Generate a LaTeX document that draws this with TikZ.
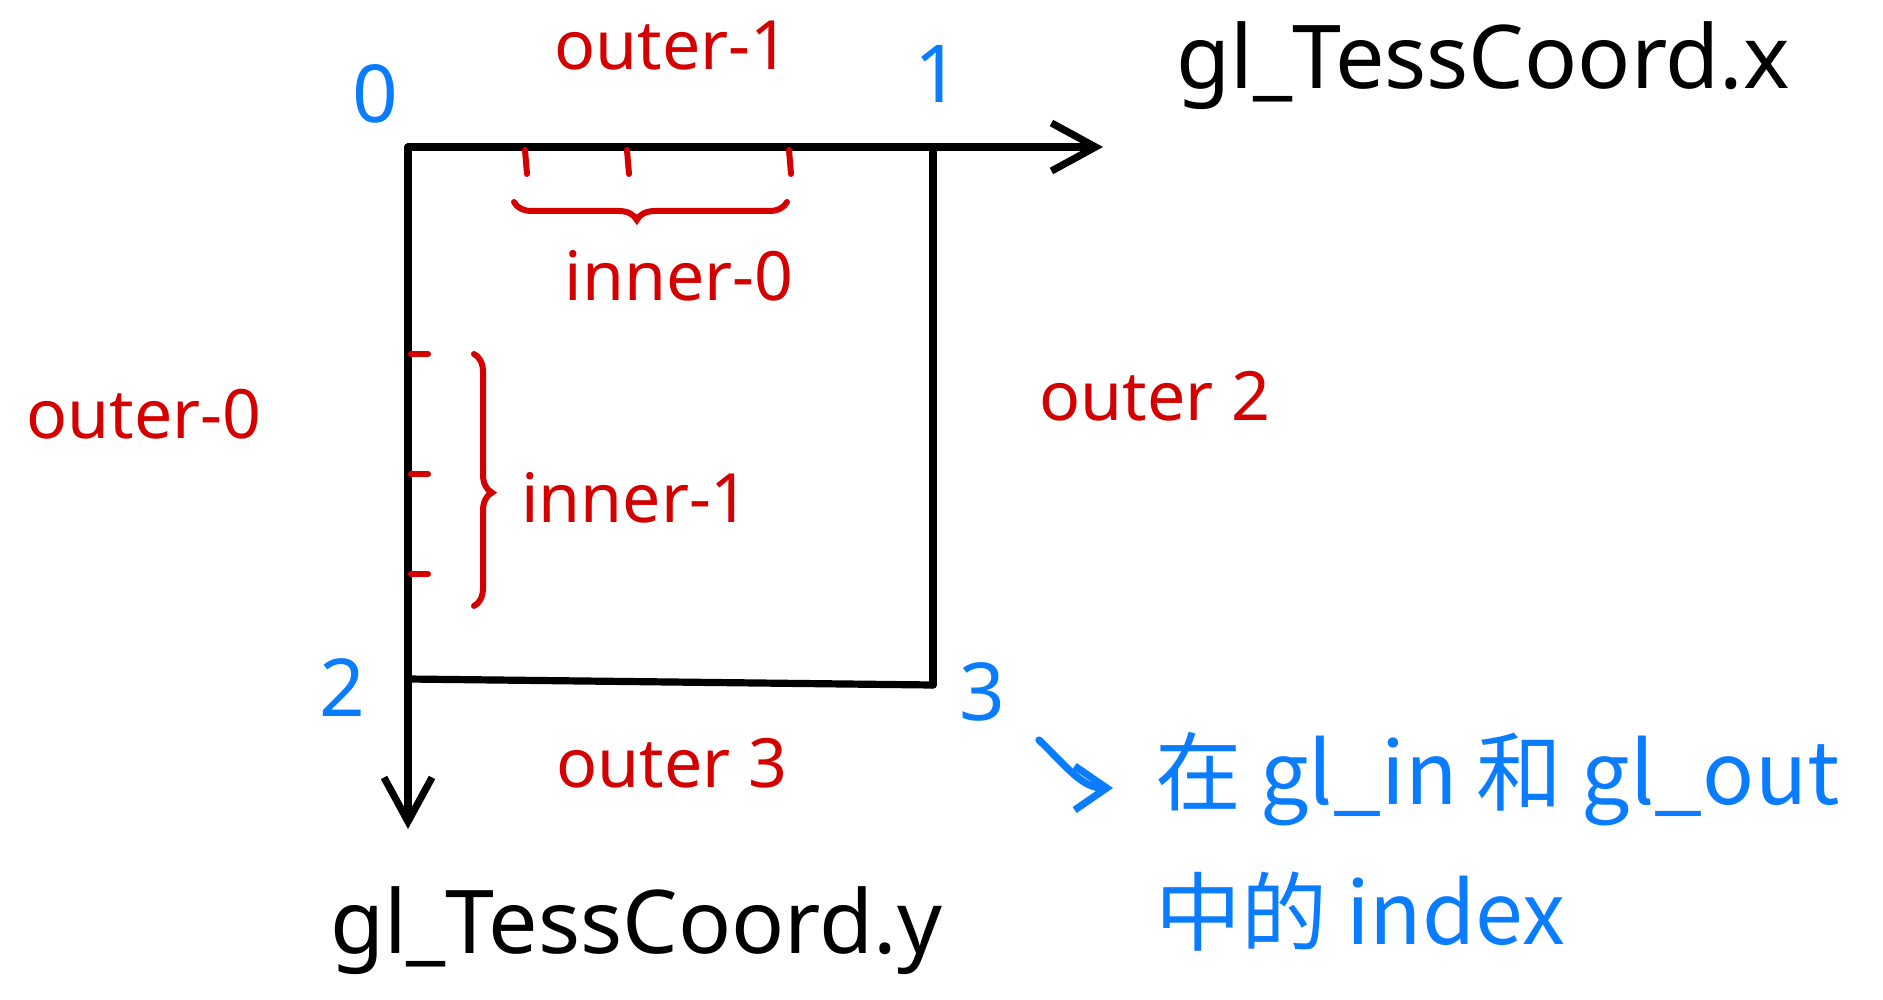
\documentclass[tikz,border=0pt]{standalone}
\usepackage{fontspec}
\setmainfont{Noto Sans}
\newfontfamily\cjk{Noto Sans CJK SC}
\usetikzlibrary{arrows.meta,calc,decorations.pathreplacing,positioning}
\definecolor{inkred}{RGB}{212,0,0}
\definecolor{inkblue}{RGB}{10,124,255}

\begin{document}
\begin{tikzpicture}[x=0.5pt,y=-0.5pt,
  axis/.style={line width=3.6pt,line cap=round,line join=round},
  axisarrow/.style={axis,-{Straight Barb[length=22pt,width=24pt,line width=3.6pt]}},
  redtick/.style={inkred,line width=3pt,line cap=round},
  redbrace/.style={inkred,line width=3pt,line cap=round,decorate,
    decoration={brace,amplitude=9pt,aspect=#1}},
  corner/.style={text=inkblue,font=\fontsize{40}{46}\selectfont},
  edgelabel/.style={text=inkred,font=\fontsize{34}{40}\selectfont},
  axislabel/.style={font=\fontsize{44}{52}\selectfont},
  note/.style={text=inkblue,font=\cjk\fontsize{43}{70}\selectfont,align=left}]
  \useasboundingbox (0,0) rectangle (1883,1000);
  % Corners of the patch
  \coordinate (c0) at (408,147);
  \coordinate (c1) at (933,152);
  \coordinate (c2) at (408,679);
  \coordinate (c3) at (933,685);
  \coordinate (xend) at (1103,147);
  \coordinate (yend) at (408,829);
  % Axes and edges
  \draw[axisarrow] (c0) -- (xend);
  \draw[axisarrow] (c0) -- (yend);
  \draw[axis] (c1) -- (c3);
  \draw[axis] (c2) -- (c3);
  % Corner indices
  \node[corner] (n0) at (375,94) {0};
  \node[corner] (n1) at (937,74) {1};
  \node[corner] (n2) at (342,688) {2};
  \node[corner] (n3) at (982,692) {3};
  % Outer levels
  \node[edgelabel] (o1) at (672,46) {outer-1};
  \node[edgelabel] (o0) at (144,414) {outer-0};
  \node[edgelabel] (o2) at (1155,396) {outer 2};
  \node[edgelabel] (o3) at (672,763) {outer 3};
  % Inner level 0: ticks on the top edge
  \foreach \tx in {525,627,789}
    \draw[redtick] (\tx,150) -- ++(2,24);
  \draw[redbrace=0.55] (787,202) -- (514,202);
  \node[edgelabel] (i0) at (679,276) {inner-0};
  % Inner level 1: ticks on the left edge
  \foreach \ty in {354,474,574}
    \draw[redtick] (411,\ty) -- ++(17,0);
  \draw[redbrace=0.55] (474,354) -- (474,606);
  \node[edgelabel,anchor=west] (i1) at (514,498) {inner-1};
  % Axis names
  \node[axislabel] (tx) at (1483,66) {gl\_TessCoord.x};
  \node[axislabel] (ty) at (636,931) {gl\_TessCoord.y};
  % Note about the corner indices
  \coordinate (nstart) at (1039,740);
  \node[note,anchor=north west] (nt) at (1148,725) {在 gl\_in 和 gl\_out\\中的 index};
  \draw[inkblue,line width=3.6pt,line cap=round,
    -{Straight Barb[length=16pt,width=22pt,line width=3.6pt]}]
    (nstart) .. controls (1068,768) and (1082,788) .. (1113,788);
\end{tikzpicture}
\end{document}
